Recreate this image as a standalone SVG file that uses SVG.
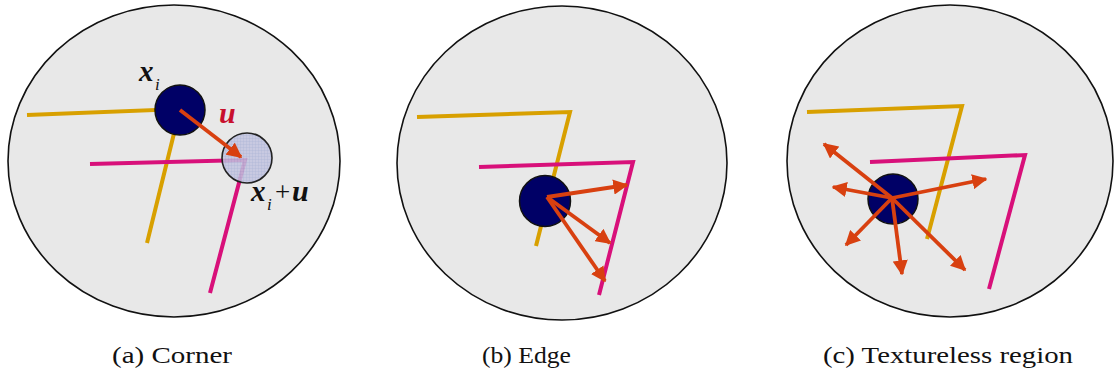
<svg xmlns="http://www.w3.org/2000/svg" width="1115" height="378" viewBox="0 0 1115 378">
<defs>
<style>
.disc{fill:#e8e8e8;stroke:#111;stroke-width:1.6}
.yel{fill:none;stroke:#d8a000;stroke-width:4;stroke-linejoin:miter}
.mag{fill:none;stroke:#d8107a;stroke-width:4;stroke-linejoin:miter}
.pt{fill:#000066;stroke:#111;stroke-width:1.5}
.arr{stroke:#d84010;stroke-width:3.8;fill:none;marker-end:url(#ah)}
</style>
<marker id="ah" viewBox="0 0 10 10" refX="9" refY="5" markerWidth="4" markerHeight="4" orient="auto" markerUnits="strokeWidth">
<path d="M0,0 L10,5 L0,10 Z" fill="#d84010"/>
</marker>
<pattern id="grid" width="3" height="3" patternUnits="userSpaceOnUse">
<rect width="3" height="3" fill="#c2c4e0"/>
<path d="M0,0 H3 M0,0 V3" stroke="#a4a8d0" stroke-width="0.7"/>
</pattern>
</defs>

<g id="panel-a">
<ellipse class="disc" cx="174" cy="161" rx="166" ry="156"/>
<polyline class="yel" points="27,115 180,109 147,243"/>
<polyline class="mag" points="90,164 245,160 210,293"/>
<circle class="pt" cx="180" cy="110" r="25"/>
<circle cx="247" cy="158" r="25" fill="url(#grid)" fill-opacity="0.85" stroke="#222" stroke-width="1.6"/>
<line class="arr" x1="180" y1="110" x2="241" y2="157"/>
<text x="139" y="81" font-size="29" font-weight="bold" font-style="italic" fill="#111" style="font-family:'Liberation Serif',serif">x</text>
<text x="155" y="90" font-size="17" font-style="italic" fill="#111" style="font-family:'Liberation Serif',serif">i</text>
<text x="219" y="123" font-size="30" font-weight="bold" font-style="italic" fill="#c8102e" style="font-family:'Liberation Serif',serif">u</text>
<text x="251" y="201" font-size="29" font-weight="bold" font-style="italic" fill="#111" style="font-family:'Liberation Serif',serif">x</text>
<text x="267" y="210" font-size="17" font-style="italic" fill="#111" style="font-family:'Liberation Serif',serif">i</text>
<text x="275" y="201" font-size="27" fill="#111" style="font-family:'Liberation Serif',serif">+</text>
<text x="292" y="201" font-size="30" font-weight="bold" font-style="italic" fill="#111" style="font-family:'Liberation Serif',serif">u</text>
</g>

<g id="panel-b">
<ellipse class="disc" cx="562" cy="163" rx="165" ry="157"/>
<polyline class="yel" points="417,117 570,112 536,246"/>
<polyline class="mag" points="479,167 633,162 599,295"/>
<circle class="pt" cx="545" cy="201" r="25.5"/>
</g>

<g id="panel-c">
<ellipse class="disc" cx="950" cy="161" rx="163" ry="156"/>
<polyline class="yel" points="807,112 962,106 927,239"/>
<polyline class="mag" points="870,162 1025,155 989,289"/>
<circle class="pt" cx="893" cy="199" r="25"/>
</g>

<g id="connectors">
<line class="arr" x1="547" y1="197" x2="627" y2="185"/>
<line class="arr" x1="547" y1="197" x2="610" y2="243"/>
<line class="arr" x1="547" y1="197" x2="605" y2="281"/>
<line class="arr" x1="892" y1="198" x2="824" y2="144"/>
<line class="arr" x1="892" y1="198" x2="833" y2="187"/>
<line class="arr" x1="892" y1="198" x2="986" y2="179"/>
<line class="arr" x1="892" y1="198" x2="846" y2="245"/>
<line class="arr" x1="892" y1="198" x2="902" y2="274"/>
<line class="arr" x1="892" y1="198" x2="965" y2="270"/>
</g>

<g id="captions">
<text x="112" y="363" font-size="24" fill="#111" textLength="120" lengthAdjust="spacingAndGlyphs" style="font-family:'Liberation Serif',serif">(a) Corner</text>
<text x="482" y="363" font-size="24" fill="#111" textLength="89" lengthAdjust="spacingAndGlyphs" style="font-family:'Liberation Serif',serif">(b) Edge</text>
<text x="823" y="363" font-size="24" fill="#111" textLength="250" lengthAdjust="spacingAndGlyphs" style="font-family:'Liberation Serif',serif">(c) Textureless region</text>
</g>
</svg>
